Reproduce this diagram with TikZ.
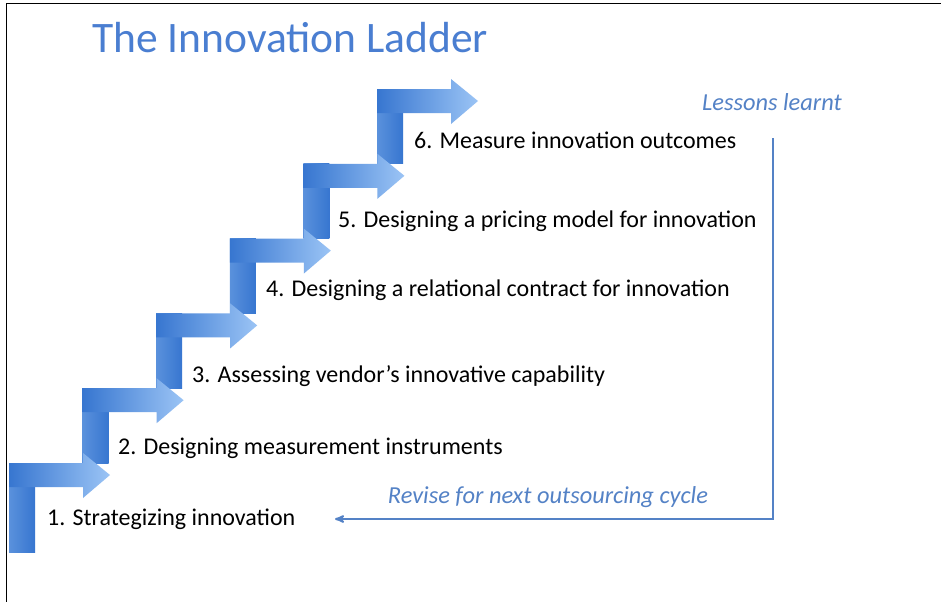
\documentclass[tikz,border=0pt]{standalone}
\usepackage{fontspec}
\setmainfont{Carlito}
\usepackage{tikz}
\usetikzlibrary{arrows,positioning}
\definecolor{titleblue}{RGB}{74,126,209}
\definecolor{stepdark}{RGB}{55,118,208}
\definecolor{steplight}{RGB}{155,196,245}
\definecolor{barlight}{RGB}{90,145,220}
\definecolor{loopblue}{RGB}{84,130,198}
\tikzstyle{stepbar}=[left color=barlight,right color=stepdark,draw=none]
\tikzstyle{steparrow}=[left color=stepdark,right color=steplight,draw=none]
\tikzstyle{steptext}=[anchor=west,inner sep=0pt,font=\fontsize{24}{28}\selectfont]
\tikzstyle{loopnote}=[inner sep=0pt,text=loopblue,font=\fontsize{24.4}{28}\selectfont\itshape]
\tikzstyle{loop}=[->,>=stealth',draw=loopblue,line width=2pt]

\begin{document}
\begin{tikzpicture}[x=1pt,y=-1pt]
    \useasboundingbox (0,0) rectangle (941,602);
    \fill[white] (0,0) rectangle (941,602);
    \draw[black,line width=1pt] (941,4) -- (6,4) -- (6,602);

    \node[anchor=west,inner sep=0pt,text=titleblue,font=\fontsize{43.5}{52}\selectfont]
        (title) at (92,38) {The Innovation Ladder};

    % the ladder, top step first so lower arrows lie on top
    \foreach \k in {5,4,...,0}{
        \pgfmathsetmacro{\sx}{9+73.6*\k}
        \pgfmathsetmacro{\sy}{463-74.8*\k}
        \ifnum\k=0 \def\bot{552}\else \pgfmathsetmacro{\bot}{\sy+74.8}\fi
        \path[stepbar] (\sx,\sy) rectangle (\sx+26,\bot);
        \path[steparrow] (\sx,\sy) -- (\sx+74,\sy) -- (\sx+74,\sy-10)
            -- (\sx+101,\sy+12) -- (\sx+74,\sy+35) -- (\sx+74,\sy+24)
            -- (\sx,\sy+24) -- cycle;
    }

    \node[steptext] (step1) at (47,519) {1. Strategizing innovation};
    \node[steptext] (step2) at (118,448) {2. Designing measurement instruments};
    \node[steptext] (step3) at (192,376) {3. Assessing vendor’s innovative capability};
    \node[steptext] (step4) at (266,290) {4. Designing a relational contract for innovation};
    \node[steptext] (step5) at (338,221) {5. Designing a pricing model for innovation};
    \node[steptext] (step6) at (414,140) {6. Measure innovation outcomes};

    % feedback loop
    \node[loopnote] (lessons) at (772,102) {Lessons learnt};
    \node[loopnote] (revise) at (548,497) {Revise for next outsourcing cycle};
    \coordinate (looptop) at (773,138);
    \coordinate (loopend) at (335,519);
    \draw[loop] (looptop) |- (loopend);
\end{tikzpicture}
\end{document}
